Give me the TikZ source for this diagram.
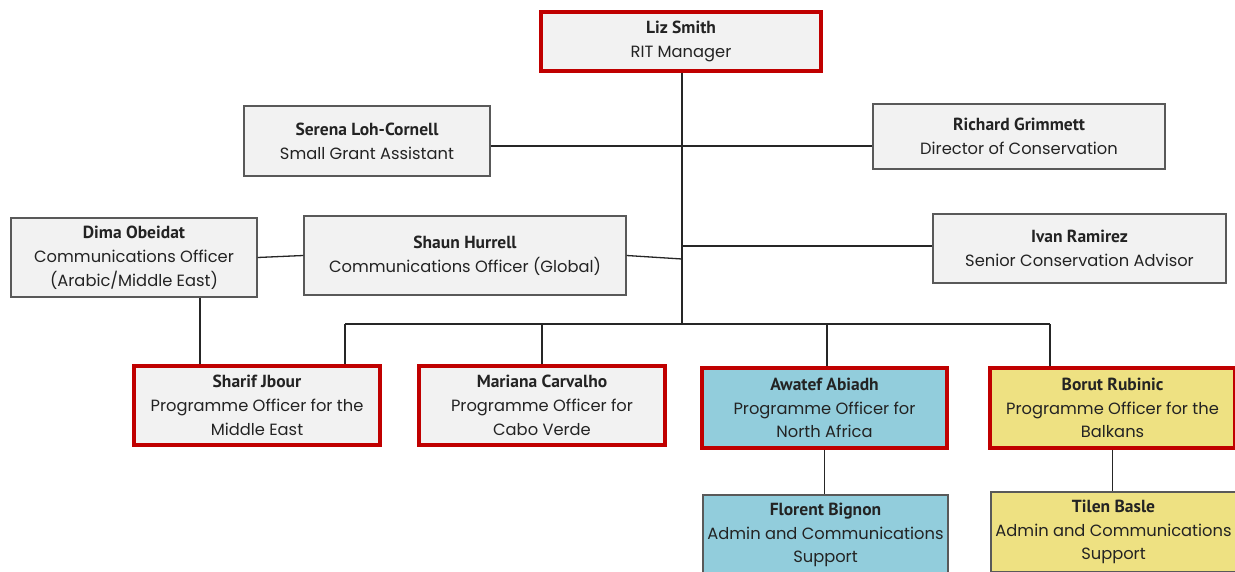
\documentclass[tikz,border=0pt]{standalone}
\usepackage{fontspec}
\setmainfont{Poppins}
\newfontfamily\namefont{PT Sans}
\definecolor{boxfill}{RGB}{242,242,242}
\definecolor{boxline}{RGB}{89,89,89}
\definecolor{redline}{RGB}{192,0,0}
\definecolor{bluefill}{RGB}{146,205,220}
\definecolor{yellowfill}{RGB}{238,225,130}
\definecolor{txt}{RGB}{35,35,35}
\begin{document}
\begin{tikzpicture}[x=1pt,y=-1pt,
  box/.style={draw=boxline,line width=1.3pt,fill=boxfill,align=center,inner sep=0pt,
    font=\fontsize{16.3}{23.8}\selectfont,text=txt},
  redbox/.style={box,draw=redline,line width=3.3pt},
  conn/.style={draw=black!85,line width=1.3pt}]
\newcommand{\nm}[1]{{\namefont\bfseries\fontsize{17.5}{23.8}\selectfont #1}}
\useasboundingbox (0,0) rectangle (1235,572);
\fill[white] (0,0) rectangle (1235,572);

\node[redbox,minimum width=280pt,minimum height=59pt] (liz) at (681,41.5) {\nm{Liz Smith}\\RIT Manager};
\node[box,minimum width=246pt,minimum height=70pt] (serena) at (367,141) {\nm{Serena Loh-Cornell}\\Small Grant Assistant};
\node[box,minimum width=292pt,minimum height=65pt] (richard) at (1019,136.5) {\nm{Richard Grimmett}\\Director of Conservation};
\node[box,minimum width=246pt,minimum height=79pt] (dima) at (134,257.5) {\nm{Dima Obeidat}\\Communications Officer\\(Arabic/Middle East)};
\node[box,minimum width=322pt,minimum height=79pt] (shaun) at (465,255.5) {\nm{Shaun Hurrell}\\Communications Officer (Global)};
\node[box,minimum width=293pt,minimum height=69pt] (ivan) at (1079.5,248.5) {\nm{Ivan Ramirez}\\Senior Conservation Advisor};
\node[redbox,minimum width=246pt,minimum height=79pt] (sharif) at (257,405.5) {\nm{Sharif Jbour}\\Programme Officer for the\\Middle East};
\node[redbox,minimum width=246pt,minimum height=79pt] (mariana) at (542,405.5) {\nm{Mariana Carvalho}\\Programme Officer for\\Cabo Verde};
\node[redbox,fill=bluefill,minimum width=245pt,minimum height=80pt] (awatef) at (824.5,408) {\nm{Awatef Abiadh}\\Programme Officer for\\North Africa};
\node[redbox,fill=yellowfill,minimum width=245pt,minimum height=80pt] (borut) at (1112.5,408) {\nm{Borut Rubinic}\\Programme Officer for the\\Balkans};
\node[box,fill=bluefill,minimum width=245pt,minimum height=80pt] (florent) at (825.5,535) {\nm{Florent Bignon}\\Admin and Communications\\Support};
\node[box,fill=yellowfill,minimum width=245pt,minimum height=80pt] (tilen) at (1113.5,532) {\nm{Tilen Basle}\\Admin and Communications\\Support};

\coordinate (j1) at (682,146);
\coordinate (j2) at (682,246);
\coordinate (j3) at (682,259);
\coordinate (jb) at (682,324);
\coordinate (b1) at (345,324);
\coordinate (b2) at (542,324);
\coordinate (b3) at (827,324);
\coordinate (b4) at (1050,324);

\draw[conn] (liz.south -| jb) -- (jb);
\draw[conn] (serena.east |- j1) -- (richard.west |- j1);
\draw[conn] (j2) -- (ivan.west |- j2);
\draw[conn] (shaun.east) -- (j3);
\draw[conn] (dima.east) -- (shaun.west);
\draw[conn] ([xshift=66pt]dima.south) -- ([xshift=-57pt]sharif.north);
\draw[conn] (b1) -- (b4);
\draw[conn] (b1) -- (sharif.north -| b1);
\draw[conn] (b2) -- (mariana.north -| b2);
\draw[conn] (b3) -- (awatef.north -| b3);
\draw[conn] (b4) -- (borut.north -| b4);
\draw[conn] (awatef.south) -- (florent.north -| awatef.south);
\draw[conn] (borut.south) -- (tilen.north -| borut.south);
\end{tikzpicture}
\end{document}
